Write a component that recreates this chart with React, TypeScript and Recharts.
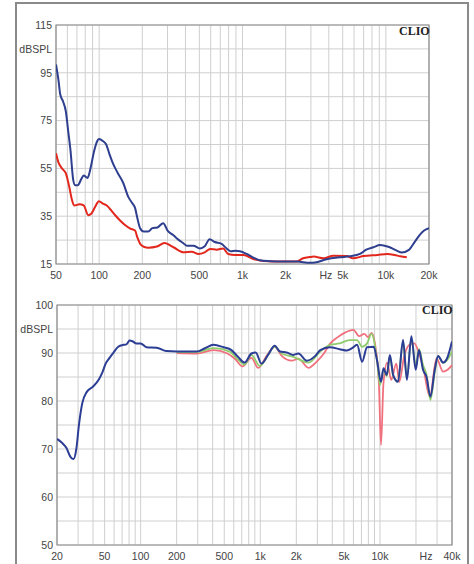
import React from "react";
import {
  LineChart,
  Line,
  XAxis,
  YAxis,
  CartesianGrid,
  ReferenceArea,
} from "recharts";

// ---- top chart (distortion) ----
const topBlueFreq = [50, 52, 53.5, 56, 58.5, 61, 63, 66, 68, 71, 75, 78, 83, 87, 92, 97, 100, 106, 112, 118, 125, 135, 147, 160, 170, 178, 185, 193, 205, 220, 235, 255, 280, 300, 330, 357, 385, 410, 455, 505, 545, 590, 640, 710, 775, 830, 890, 960, 1070, 1200, 1320, 1560, 1920, 2400, 2950, 3200, 3860, 4800, 5600, 6600, 7300, 8200, 9100, 10400, 11900, 12900, 14400, 16000, 17300, 18500, 20000];
const topBlueVal = [98.5, 92, 86, 83, 79, 70, 63, 50, 48, 48, 50.5, 52, 51, 55, 62, 66.5, 67.3, 66.5, 65, 61, 57, 53, 49, 43, 40.5, 38.5, 34, 30, 28.6, 28.6, 30, 30.3, 32.1, 29, 27, 25.2, 23.8, 22.6, 22.6, 21.5, 22.4, 25.4, 24.2, 23.5, 21.5, 20.3, 20.5, 20.3, 19.2, 17.6, 16.6, 16.2, 16, 16, 15.5, 15.6, 17, 17.8, 18.2, 19.2, 21, 22, 22.9, 22.2, 20.6, 19.8, 20.8, 24.5, 27.3, 29, 30];
const topRedFreq = [50, 52, 55, 58.5, 62, 64.5, 67, 73, 78, 84, 88, 93, 99.6, 106, 113, 120, 129, 140, 150, 165, 178, 185, 193, 205, 220, 253, 285, 330, 387, 442, 494, 545, 595, 661, 733, 794, 888, 1016, 1190, 1400, 1920, 2370, 2650, 2950, 3140, 3680, 4300, 5320, 5900, 7000, 8750, 10200, 11500, 12600, 14000];
const topRedVal = [61.3, 57.5, 55, 53, 47, 42, 39.5, 40, 39.5, 35.4, 36, 38.5, 41.3, 40.3, 39.5, 37.8, 35.5, 33.2, 31.5, 29.8, 29, 26, 23.5, 22.2, 21.8, 22.3, 23.8, 22, 19.9, 20.1, 19.2, 19.9, 21.3, 21, 21.5, 19.2, 18.8, 18.8, 17.1, 16.3, 16, 16, 17.4, 17.9, 18.1, 17.4, 18.5, 18.3, 17.4, 18.3, 18.8, 19.2, 18.8, 18.2, 17.8];

const topXGrid = [50, 60, 70, 80, 90, 100, 200, 300, 400, 500, 600, 700, 800, 900, 1000, 2000, 3000, 4000, 5000, 6000, 7000, 8000, 9000, 10000, 20000];
const topXTickAt = [50, 100, 200, 500, 1000, 2000, 4000, 5000, 10000, 20000];
const topXTickLabels = ["50", "100", "200", "500", "1k", "2k", "Hz", "5k", "10k", "20k"];
const topYGrid = [15, 25, 35, 45, 55, 65, 75, 85, 95, 105, 115];
const topYTickAt = [15, 35, 55, 75, 95, 105, 115];
const topYTickLabels = ["15", "35", "55", "75", "95", "dBSPL", "115"];
const topRTickAt = [0, 1, 2, 3, 4, 4.5, 5];
const topRTickLabels = ["0", "1", "2", "3", "4", "%", "5"];

// ---- bottom chart (frequency response) ----
const botBlueFreq = [20, 22, 24, 26, 27.5, 29, 30.5, 32.5, 35.5, 40, 45, 48, 51, 55, 59, 65, 72, 76, 81, 86, 92, 100, 112, 136, 164, 200, 294, 345, 406, 493, 574, 651, 740, 843, 916, 1021, 1160, 1320, 1460, 1660, 1890, 2080, 2450, 2880, 3170, 3818, 4600, 5300, 5850, 6440, 7090, 7800, 8860, 9450, 10200, 10700, 11400, 12100, 12900, 14150, 15600, 16800, 18300, 19900, 21200, 22900, 24500, 26400, 28700, 30600, 33700, 36400, 40000];
const botBlueVal = [72.1, 71.3, 70.2, 68.3, 67.9, 70, 75, 79.5, 81.9, 83, 84.6, 86, 87.8, 89, 90, 91.3, 91.7, 91.8, 92.6, 92.4, 92, 92, 91.2, 91.1, 90.4, 90.3, 90.3, 91, 91.7, 91.2, 90.6, 89.2, 88, 89.9, 90.1, 87.8, 89.6, 91.5, 90.3, 90.1, 89.6, 89.9, 88.4, 89.4, 90.6, 91.2, 90.8, 90.5, 91, 91.7, 88.2, 91.2, 91.3, 88.5, 84, 86.8, 85.4, 89.6, 85.4, 84, 92.7, 84.4, 93.5, 86.5, 90.6, 86.5, 85, 80.9, 86.5, 89.4, 88, 88.9, 92.4];
const botGreenFreq = [200, 294, 406, 556, 632, 740, 843, 990, 1320, 1510, 1890, 2530, 3170, 3818, 4600, 5550, 6440, 7090, 7800, 8500, 9450, 10000, 10700, 11400, 12100, 12900, 14150, 15600, 16800, 18300, 19900, 21200, 22900, 24500, 26400, 28700, 30600, 33700, 36400, 40000];
const botGreenVal = [90.2, 90.2, 91, 90.3, 89, 87.6, 89.6, 87.3, 91.3, 89.9, 89.2, 88, 90.3, 91.7, 92, 92.7, 92.7, 91.3, 92, 94, 88.5, 83.3, 86.5, 85.2, 89.3, 85.2, 84.2, 92.3, 84.8, 93, 87.5, 90.8, 87.5, 85.5, 80.2, 86, 89.4, 87.9, 88.5, 90.3];
const botRedFreq = [200, 294, 406, 530, 614, 712, 843, 960, 1130, 1320, 1510, 1830, 2080, 2530, 2960, 3400, 3818, 4320, 5060, 6000, 6700, 7400, 7960, 8500, 9080, 9800, 10200, 10700, 11500, 12400, 13700, 14500, 15900, 17600, 19400, 21200, 22900, 26100, 29700, 33700, 36700, 40000];
const botRedVal = [90, 89.9, 90.6, 89.9, 88.8, 87.2, 89, 86.9, 89.4, 91.3, 89.4, 88.4, 88.8, 86.9, 88.2, 89.9, 91.9, 93.1, 94.2, 94.8, 93.5, 94, 93.3, 94.2, 92, 83.7, 70.8, 83.7, 88, 84.4, 87.8, 84, 89.2, 91.7, 92, 89.9, 87.2, 80.9, 88.9, 86.1, 86.5, 87.5];

const botXGrid = [20, 30, 40, 50, 60, 70, 80, 90, 100, 200, 300, 400, 500, 600, 700, 800, 900, 1000, 2000, 3000, 4000, 5000, 6000, 7000, 8000, 9000, 10000, 20000, 30000, 40000];
const botXTickAt = [20, 50, 100, 200, 500, 1000, 2000, 5000, 10000, 20000, 40000];
const botXTickLabels = ["20", "50", "100", "200", "500", "1k", "2k", "5k", "10k", "Hz", "40k"];
const botYGrid = [50, 55, 60, 65, 70, 75, 80, 85, 90, 95, 100];
const botYTickAt = [50, 60, 70, 80, 90, 95, 100];
const botYTickLabels = ["50", "60", "70", "80", "90", "dBSPL", "100"];

const zip = (f: number[], v: number[]) => f.map((x, i) => ({ f: x, v: v[i] }));

const FONT = "'Liberation Sans', Arial, sans-serif";

const makeTick =
  (at: number[], labels: string[], vertical: boolean, hzShift = 0) =>
  (props: any) => {
    const { x, y, payload, textAnchor } = props;
    const i = at.indexOf(payload.value);
    if (i < 0) return <g />;
    const label = labels[i];
    const dx = label === "Hz" ? hzShift : 0;
    return (
      <text
        x={x + dx}
        y={y}
        dy={vertical ? "0.355em" : "0.71em"}
        textAnchor={textAnchor}
        fontFamily={FONT}
        fontSize={10.5}
        fill="#444"
      >
        {label}
      </text>
    );
  };

const clio: React.CSSProperties = {
  position: "absolute",
  fontFamily: "'Liberation Serif', 'Times New Roman', serif",
  fontWeight: "bold",
  fontSize: 12,
  color: "#222",
  lineHeight: "12px",
};

export default function App() {
  return (
    <div style={{ position: "absolute", left: 0, top: 0, width: 474, height: 564, background: "#fff", overflow: "hidden" }}>
      <div
        style={{
          position: "absolute",
          left: 15,
          top: 2,
          width: 450,
          height: 620,
          borderLeft: "2px solid #8a8a8a",
          borderTop: "2px solid #8a8a8a",
          borderRight: "2px solid #8a8a8a",
        }}
      />
      <div style={{ position: "absolute", left: 0, top: 0 }}>
        <LineChart width={474} height={290} margin={{ top: 25, right: 15, bottom: 6, left: 0 }}>
          <CartesianGrid stroke="#cfcfcf" yAxisId="l" />
          <XAxis
            dataKey="f"
            type="number"
            scale="log"
            domain={[50, 20000]}
            ticks={topXGrid}
            interval={0}
            allowDataOverflow
            height={20}
            axisLine={false}
            tickLine={false}
            tick={makeTick(topXTickAt, topXTickLabels, false, -3)}
          />
          <YAxis
            yAxisId="l"
            type="number"
            domain={[15, 115]}
            ticks={topYGrid}
            interval={0}
            width={56}
            axisLine={false}
            tickLine={false}
            tickSize={2}
            tickMargin={2}
            tick={makeTick(topYTickAt, topYTickLabels, true)}
          />
          <YAxis
            yAxisId="r"
            orientation="right"
            type="number"
            domain={[0, 5]}
            ticks={topRTickAt}
            interval={0}
            width={30}
            axisLine={false}
            tickLine={false}
            tickSize={2}
            tickMargin={2}
            tick={makeTick(topRTickAt, topRTickLabels, true)}
          />
          <ReferenceArea yAxisId="l" x1={50} x2={20000} y1={15} y2={115} fill="none" stroke="#8c8c8c" strokeWidth={1.2} />
          <Line yAxisId="l" data={zip(topRedFreq, topRedVal)} dataKey="v" type="monotone" stroke="#e2271d" strokeWidth={2} dot={false} isAnimationActive={false} />
          <Line yAxisId="l" data={zip(topBlueFreq, topBlueVal)} dataKey="v" type="monotone" stroke="#2f3f8f" strokeWidth={2} dot={false} isAnimationActive={false} />
        </LineChart>
        <div style={{ ...clio, left: 399, top: 25 }}>CLIO</div>
      </div>
      <div style={{ position: "absolute", left: 0, top: 290 }}>
        <LineChart width={474} height={274} margin={{ top: 15, right: 22, bottom: 2, left: 0 }}>
          <CartesianGrid stroke="#cfcfcf" />
          <XAxis
            dataKey="f"
            type="number"
            scale="log"
            domain={[20, 40000]}
            ticks={botXGrid}
            interval={0}
            allowDataOverflow
            height={17}
            axisLine={false}
            tickLine={false}
            tick={makeTick(botXTickAt, botXTickLabels, false, 10)}
          />
          <YAxis
            type="number"
            domain={[50, 100]}
            ticks={botYGrid}
            interval={0}
            width={57}
            axisLine={false}
            tickLine={false}
            tickSize={2}
            tickMargin={2}
            tick={makeTick(botYTickAt, botYTickLabels, true)}
          />
          <ReferenceArea x1={20} x2={40000} y1={50} y2={100} fill="none" stroke="#8c8c8c" strokeWidth={1.2} />
          <Line data={zip(botRedFreq, botRedVal)} dataKey="v" type="monotone" stroke="#f0707e" strokeWidth={1.8} dot={false} isAnimationActive={false} />
          <Line data={zip(botGreenFreq, botGreenVal)} dataKey="v" type="monotone" stroke="#8fcc6c" strokeWidth={1.8} dot={false} isAnimationActive={false} />
          <Line data={zip(botBlueFreq, botBlueVal)} dataKey="v" type="monotone" stroke="#2b3d94" strokeWidth={2} dot={false} isAnimationActive={false} />
        </LineChart>
        <div style={{ ...clio, left: 422, top: 14 }}>CLIO</div>
      </div>
    </div>
  );
}
